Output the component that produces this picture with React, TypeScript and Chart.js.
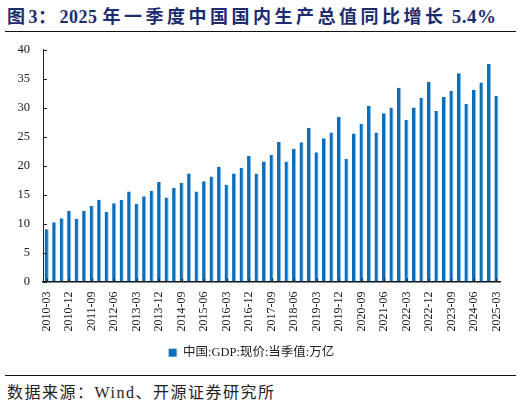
import { useEffect, useRef } from 'react'
import { Chart, registerables } from 'chart.js'

Chart.register(...registerables)

const quarters = [
  '2010-03', '2010-06', '2010-09', '2010-12',
  '2011-03', '2011-06', '2011-09', '2011-12',
  '2012-03', '2012-06', '2012-09', '2012-12',
  '2013-03', '2013-06', '2013-09', '2013-12',
  '2014-03', '2014-06', '2014-09', '2014-12',
  '2015-03', '2015-06', '2015-09', '2015-12',
  '2016-03', '2016-06', '2016-09', '2016-12',
  '2017-03', '2017-06', '2017-09', '2017-12',
  '2018-03', '2018-06', '2018-09', '2018-12',
  '2019-03', '2019-06', '2019-09', '2019-12',
  '2020-03', '2020-06', '2020-09', '2020-12',
  '2021-03', '2021-06', '2021-09', '2021-12',
  '2022-03', '2022-06', '2022-09', '2022-12',
  '2023-03', '2023-06', '2023-09', '2023-12',
  '2024-03', '2024-06', '2024-09', '2024-12',
  '2025-03',
]

// 中国:GDP:现价:当季值（万亿）
const gdp = [
  9.0, 10.2, 10.9, 12.2,
  10.8, 12.2, 13.0, 14.1,
  12.0, 13.5, 14.1, 15.5,
  13.4, 14.7, 15.6, 17.2,
  14.5, 16.1, 17.0, 18.6,
  15.5, 17.3, 18.1, 19.8,
  16.7, 18.6, 19.6, 21.7,
  18.6, 20.7, 21.8, 24.1,
  20.7, 22.9, 24.0, 26.5,
  22.3, 24.7, 25.7, 28.4,
  21.1, 25.5, 27.2, 30.3,
  25.7, 29.0, 30.0, 33.4,
  27.9, 30.0, 31.7, 34.4,
  29.4, 31.8, 32.9, 35.9,
  30.6, 33.0, 34.3, 37.5,
  32.0,
]

const yTicks = [0, 5, 10, 15, 20, 25, 30, 35, 40]

const serif = '"Liberation Serif", "Times New Roman", "Noto Sans CJK SC", serif'

// 坐标轴内侧的小刻度
const innerTicks = {
  id: 'innerTicks',
  afterDraw(chart: Chart) {
    const { ctx, scales } = chart
    const x = scales.x
    const y = scales.y
    ctx.save()
    ctx.strokeStyle = '#222'
    ctx.lineWidth = 1
    yTicks.forEach(v => {
      const py = Math.round(y.getPixelForValue(v)) + 0.5
      ctx.beginPath()
      ctx.moveTo(x.left, py)
      ctx.lineTo(x.left + 4, py)
      ctx.stroke()
    })
    quarters.forEach((_, i) => {
      if (i % 3) return
      const px = Math.round(x.getPixelForValue(i)) + 0.5
      ctx.beginPath()
      ctx.moveTo(px, y.bottom)
      ctx.lineTo(px, y.bottom - 3)
      ctx.stroke()
    })
    ctx.restore()
  },
}

const latin = { letterSpacing: 0.5 }

export default function App() {
  const canvasRef = useRef<HTMLCanvasElement>(null)

  useEffect(() => {
    if (!canvasRef.current) return
    const chart = new Chart(canvasRef.current, {
      type: 'bar',
      data: {
        labels: quarters,
        datasets: [
          {
            label: '中国:GDP:现价:当季值:万亿',
            data: gdp,
            backgroundColor: '#0a6ebd',
            borderColor: '#8fbde6',
            borderWidth: { left: 0, right: 1, top: 0, bottom: 0 },
            borderSkipped: false,
            barPercentage: 0.55,
            categoryPercentage: 1,
          },
        ],
      },
      options: {
        animation: false,
        responsive: false,
        maintainAspectRatio: false,
        layout: { padding: { top: 0, right: 18, left: 0, bottom: 0 } },
        plugins: {
          tooltip: { enabled: false },
          legend: {
            position: 'bottom',
            labels: {
              boxWidth: 8,
              boxHeight: 8,
              padding: 8,
              color: '#222',
              font: { family: serif, size: 12.5 },
            },
          },
        },
        scales: {
          x: {
            grid: { display: false, drawTicks: false },
            border: { display: true, color: '#111', width: 1.5 },
            afterFit: (s: any) => { s.height = 57 },
            ticks: {
              autoSkip: false,
              minRotation: 90,
              maxRotation: 90,
              padding: 10,
              color: '#222',
              font: { family: serif, size: 12 },
              callback: (_v: any, i: number) => (i % 3 === 0 ? quarters[i] : ''),
            },
          },
          y: {
            min: 0,
            max: 40,
            grid: { display: false, drawTicks: false },
            border: { display: true, color: '#222', width: 1 },
            afterFit: (s: any) => { s.width = 43 },
            afterBuildTicks: (s: any) => { s.ticks = yTicks.map(v => ({ value: v })) },
            ticks: {
              padding: 13,
              color: '#222',
              font: { family: serif, size: 12.5 },
            },
          },
        },
      },
      plugins: [innerTicks],
    })
    return () => { chart.destroy() }
  }, [])

  return (
    <div style={{ position: 'absolute', left: 0, top: 0, width: 521, height: 405, background: '#fff', fontFamily: serif }}>
      <div style={{ position: 'absolute', left: 7, top: 5, fontSize: 18, fontWeight: 'bold', color: '#1d2b6f', letterSpacing: 3.5, whiteSpace: 'nowrap', lineHeight: '24px' }}>
        图<span style={latin}>3</span>：<span style={latin}>2025 </span>年一季度中国国内生产总值同比增长<span style={{ ...latin, fontSize: 19 }}> 5.4%</span>
      </div>
      <div style={{ position: 'absolute', left: 5, top: 31, width: 511, height: 1, background: '#111' }} />
      <canvas ref={canvasRef} width={521} height={340} style={{ position: 'absolute', left: 0, top: 29, width: 521, height: 340 }} />
      <div style={{ position: 'absolute', left: 5, top: 375, width: 511, height: 1, background: '#111' }} />
      <div style={{ position: 'absolute', left: 7, top: 383, fontSize: 16, color: '#222', letterSpacing: 1.5, whiteSpace: 'nowrap', lineHeight: '20px' }}>
        数据来源：Wind、开源证券研究所
      </div>
    </div>
  )
}
